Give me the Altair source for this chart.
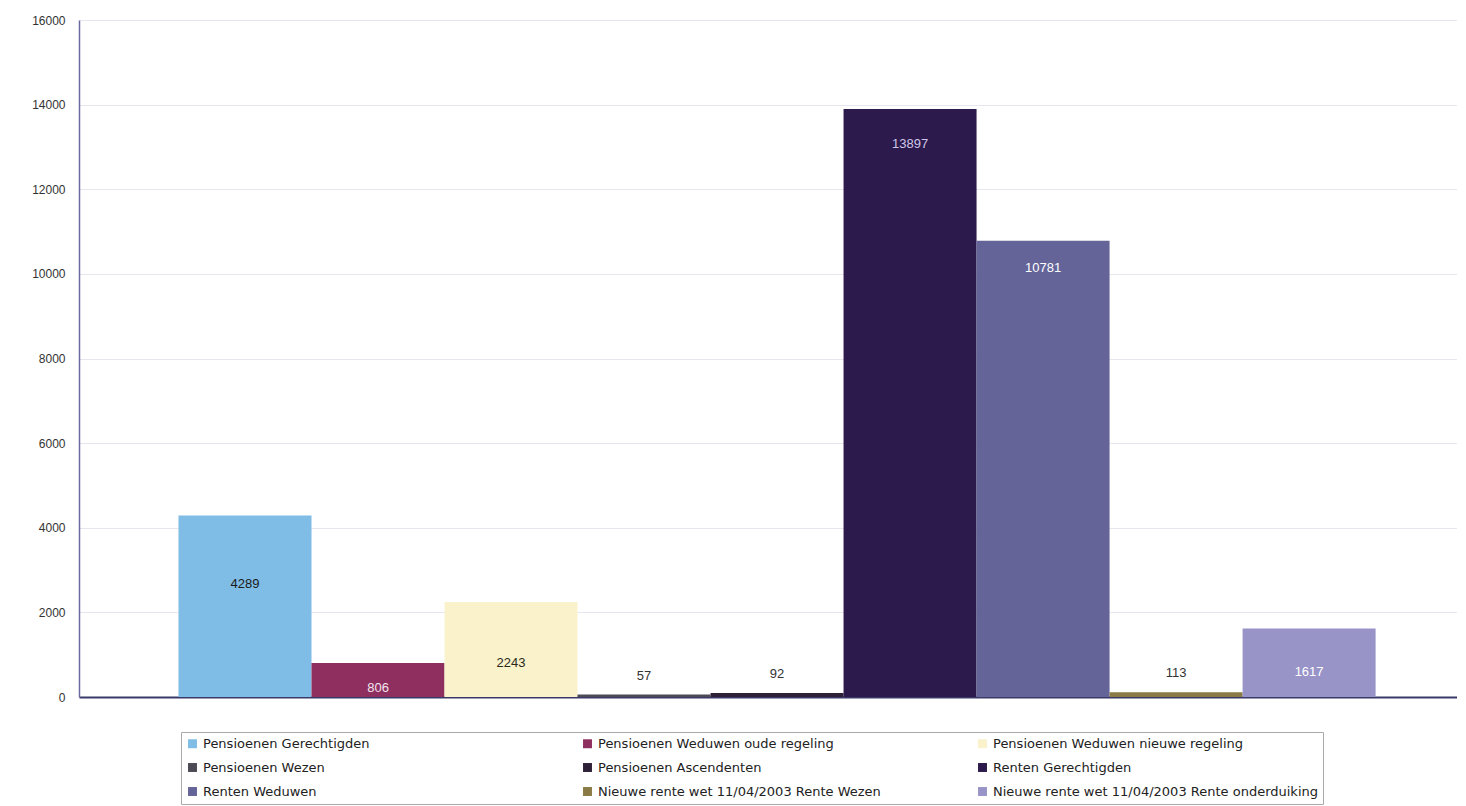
import altair as alt
import pandas as pd

categories = [
    "Pensioenen Gerechtigden",
    "Pensioenen Weduwen oude regeling",
    "Pensioenen Weduwen nieuwe regeling",
    "Pensioenen Wezen",
    "Pensioenen Ascendenten",
    "Renten Gerechtigden",
    "Renten Weduwen",
    "Nieuwe rente wet 11/04/2003 Rente Wezen",
    "Nieuwe rente wet 11/04/2003 Rente onderduiking",
]
values = [4289, 806, 2243, 57, 92, 13897, 10781, 113, 1617]
y_ticks = [0, 2000, 4000, 6000, 8000, 10000, 12000, 14000, 16000]

bar_colors = ["#7fbce6", "#8e2f60", "#f9f2cb", "#4c4a55", "#2e2036",
              "#2c1a4c", "#646499", "#8a7a45", "#9894c8"]
label_colors = ["#1a1a1a", "#f4e6f0", "#2a2a1a", "#333333", "#333333",
                "#cfc6ea", "#ffffff", "#333333", "#ffffff"]

df = pd.DataFrame({"category": categories, "value": values})
df["lc"] = label_colors

x_enc = alt.X("category:N", sort=categories, axis=alt.Axis(
    labels=False, ticks=False, title=None, domainColor="#3a3a6a", domainWidth=2),
    scale=alt.Scale(paddingInner=0, paddingOuter=0.68, align=0.55))

bars = alt.Chart(df).mark_bar().encode(
    x=x_enc,
    y=alt.Y("value:Q", scale=alt.Scale(domain=[0, 16000]),
            axis=alt.Axis(values=y_ticks, format="d", title=None, ticks=False, labelPadding=14,
                          labelFont="Liberation Sans", labelFontSize=12, labelColor="#333333",
                          domainColor="#6a6aa0", domainWidth=1.5,
                          gridColor="#e6e6ee", gridWidth=1)),
    color=alt.Color("category:N", sort=categories,
                    scale=alt.Scale(domain=categories, range=bar_colors),
                    legend=alt.Legend(title=None, orient="none", legendX=102, legendY=712,
                                      columns=3, direction="horizontal",
                                      gridAlign="all", columnPadding=53, rowPadding=10,
                                      symbolType="square", symbolSize=80, symbolStrokeWidth=0,
                                      labelFont="DejaVu Sans", labelFontSize=13, labelColor="#222222",
                                      labelLimit=420, strokeColor="#aaaaaa", padding=5)),
)

labels = alt.Chart(df).transform_calculate(
    lp="datum.value < 200 ? datum.value + 450 : (datum.value > 8000 ? datum.value * 0.94 : (datum.value < 1000 ? datum.value * 0.25 : (datum.value < 3000 ? datum.value * 0.36 : datum.value * 0.62)))"
).mark_text(font="Liberation Sans", fontSize=13, baseline="middle").encode(
    x=alt.X("category:N", sort=categories),
    y=alt.Y("lp:Q"),
    text=alt.Text("value:Q", format="d"),
    color=alt.Color("lc:N", scale=None),
)

chart = alt.layer(bars, labels).resolve_scale(color="independent").properties(
    width=1378, height=677, padding={"left": 23, "top": 6, "right": 0, "bottom": 0}
).configure_view(stroke=None).configure_axisY(domain=True)

chart.save("out.html", embed_options={"renderer": "svg", "actions": False})
